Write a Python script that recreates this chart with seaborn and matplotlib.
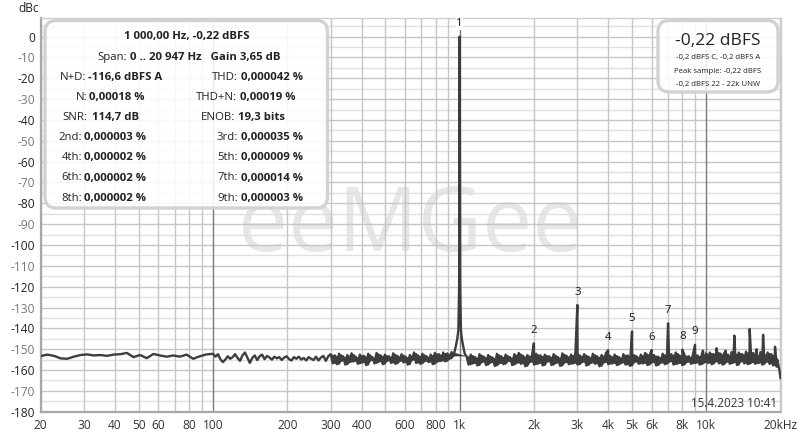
#!/usr/bin/env python3
"""FFT spectrum plot of a 1 kHz tone (dBc vs frequency), log frequency axis"""

import numpy as np
import pandas as pd
import matplotlib
matplotlib.use("Agg")
import matplotlib.pyplot as plt
import seaborn as sns
from matplotlib.patches import FancyBboxPatch
from matplotlib.transforms import IdentityTransform

W, H = 800, 436

# --- noise floor (dBc) ---
low_db = [-153.3, -152.6, -153.2, -154.4, -154.6, -153.6, -152.8, -152.5, -153.0, -152.8,
          -153.2, -152.6, -152.4, -151.8, -153.8, -152.8, -154.3, -152.3, -153.0, -153.6,
          -153.0, -153.6, -152.6, -154.6, -153.4, -152.5]

mid_db = [-152.2, -153.6, -152.4, -154.8, -156.2, -155.0, -153.4, -154.6, -153.8, -152.4,
          -154.2, -155.6, -153.0, -151.6, -154.0, -156.6, -154.2, -153.0, -155.2, -153.4,
          -152.6, -154.8, -153.2, -154.0, -155.0, -153.6, -154.4, -153.8, -155.2, -154.0,
          -153.4, -154.8, -155.4, -153.8, -154.6, -153.6, -155.0, -154.2, -155.4, -153.8,
          -154.6, -155.2, -153.6, -155.4, -154.0, -153.2, -155.6, -153.4]

c1_db = [-152.4, -156.8, -153.0, -157.2, -152.2, -155.6, -153.4, -157.4, -152.8, -156.2,
         -152.0, -155.8, -153.6, -157.0, -152.6, -156.4, -153.2, -157.6, -152.2, -155.4,
         -153.8, -156.8, -151.8, -156.0, -153.0, -157.2, -152.6, -155.6, -153.4, -156.6,
         -152.0, -157.0, -153.2, -155.8, -152.4, -156.4, -153.6, -157.4, -152.8, -155.2,
         -151.6, -156.6, -153.0, -157.0, -152.2, -155.8, -153.4, -156.2, -152.6, -157.2,
         -151.8, -156.0, -152.4, -155.6, -151.6, -155.8, -152.0, -154.6, -151.4, -153.2]

c2a_db = [-153.2, -157.4, -152.6, -156.8, -153.8, -157.8, -152.4, -156.2, -153.6, -157.6,
          -152.8, -156.4, -154.0, -158.0, -152.2, -156.8, -153.4, -157.2, -152.6, -155.8,
          -153.8, -157.6, -152.4, -156.6, -151.8, -157.0, -153.2, -158.2, -152.8, -156.2,
          -153.6, -157.4, -152.2, -156.8, -153.0, -157.8, -152.6, -156.0, -153.4, -157.6,
          -152.4, -156.6, -153.8, -158.0, -152.0, -156.4, -153.2, -157.2, -152.6, -156.8,
          -151.6, -157.4, -153.0, -156.2, -152.4, -157.8, -153.6, -156.6, -152.2, -157.0,
          -153.4, -158.2, -152.8, -156.4, -151.8, -157.2, -153.2, -156.8, -152.6, -157.6,
          -153.8, -156.6, -152.4, -157.4, -153.0, -158.0, -152.2, -156.2, -153.4, -157.0,
          -152.6, -156.8, -151.8, -157.6, -153.2, -156.4, -152.8, -157.8, -153.6, -156.6,
          -152.2, -157.2, -153.0, -156.0, -152.4, -157.4, -151.6, -156.8, -153.2, -157.6,
          -152.8, -156.2, -153.4, -157.0, -152.0, -156.6, -153.0, -157.4, -152.4, -156.4]

c2b_db = [-152.0, -156.6, -151.6, -157.2, -152.4, -156.0, -151.2, -156.8, -152.2, -157.4,
          -151.8, -156.2, -152.6, -157.0, -151.4, -156.4, -152.0, -157.6, -151.6, -156.0,
          -152.4, -156.8, -151.2, -157.2, -152.0, -156.4, -151.8, -157.0, -152.6, -156.6,
          -151.4, -157.4, -152.2, -156.2, -151.6, -157.0, -152.4, -157.8, -152.8, -158.4]

# fundamental with its skirt
fund_hz = [950, 965, 978, 988, 995, 1000, 1005, 1012, 1022, 1035, 1050]
fund_db = [-152.0, -148.5, -145.0, -141.0, -120.0, 0.0, -120.0, -141.0, -145.5, -149.0, -152.5]

# roll-off at the top of the band
tail_hz = [19400, 19600, 19800, 20000]
tail_db = [-155.0, -157.5, -160.0, -164.0]

# harmonics and other spurs
spur_hz = [2000, 3000, 4000, 5000, 6000, 7000, 8000, 9000, 9700,
           11000, 12000, 13000, 15000, 16000, 17000, 19000]
spur_db = [-147.2, -128.8, -150.5, -141.5, -150.4, -137.6, -150.2, -147.9, -150.7,
           -149.6, -150.7, -143.5, -140.3, -150.0, -143.1, -148.8]

harm_hz = [1000, 2000, 3000, 4000, 5000, 6000, 7000, 8000, 9000]
harm_db = [0.0, -147.2, -128.8, -150.5, -141.5, -150.4, -137.6, -150.2, -147.9]
harm_labels = ["1", "2", "3", "4", "5", "6", "7", "8", "9"]

# axis ticks
xgrid_hz = [20, 30, 40, 50, 60, 70, 80, 90, 200, 300, 400, 500, 600, 700, 800, 900,
            2000, 3000, 4000, 5000, 6000, 7000, 8000, 9000, 20000]
xtick_hz = [20, 30, 40, 50, 60, 80, 100, 200, 300, 400, 600, 800,
            1000, 2000, 3000, 4000, 5000, 6000, 8000, 10000, 20000]
xtick_labels = ["20", "30", "40", "50", "60", "80", "100", "200", "300", "400",
                "600", "800", "1k", "2k", "3k", "4k", "5k", "6k", "8k", "10k", "20kHz"]
decade_hz = [100, 1000, 10000]
ytick_db = list(range(-180, 1, 10))
yminor_db = list(range(-175, 9, 10))

# info box contents
info_title = "1 000,00 Hz, -0,22 dBFS"
info_rows = [
    ("N+D:", "-116,6 dBFS A", "THD:", "0,000042 %"),
    ("N:", "0,00018 %", "THD+N:", "0,00019 %"),
    ("SNR:", " 114,7 dB", "ENOB:", "19,3 bits"),
    ("2nd:", "0,000003 %", "3rd:", "0,000035 %"),
    ("4th:", "0,000002 %", "5th:", "0,000009 %"),
    ("6th:", "0,000002 %", "7th:", "0,000014 %"),
    ("8th:", "0,000002 %", "9th:", "0,000003 %"),
]
level_big = "-0,22 dBFS"
level_lines = ["-0,2 dBFS C, -0,2 dBFS A", "Peak sample: -0,22 dBFS", "-0,2 dBFS 22 - 22k UNW"]

# --- assemble trace ---
dense = pd.DataFrame({
    "freq": np.concatenate([np.geomspace(300, 945, len(c1_db)),
                            np.geomspace(1065, 10000, len(c2a_db), endpoint=False),
                            np.geomspace(10000, 19300, len(c2b_db))]),
    "db": np.concatenate([c1_db, c2a_db, c2b_db]),
})
# min/max of neighbouring bins -> the solid noise band the analyser draws
dense["hi"] = dense["db"].rolling(2, min_periods=1).max()
dense["lo"] = dense["db"].rolling(2, min_periods=1).min()

freq = np.concatenate([
    np.geomspace(20, 100, len(low_db), endpoint=False),
    np.geomspace(100, 300, len(mid_db), endpoint=False),
    dense["freq"].values,
    fund_hz,
    tail_hz,
    spur_hz,
])
level = np.concatenate([low_db, mid_db, dense["db"].values, fund_db, tail_db, spur_db])
df = pd.DataFrame({"freq": freq, "db": level}).sort_values("freq")

sns.set_theme(style="white")
plt.rcParams["font.family"] = ["Open Sans", "DejaVu Sans"]
plt.rcParams["axes.unicode_minus"] = False
TXT = "#222222"
LINE = "#3d3d3d"

fig = plt.figure(figsize=(W / 100, H / 100), dpi=100)
ax = fig.add_axes([40.7 / W, 1 - 411.7 / H, 739.8 / W, 393.4 / H])
ax.set_facecolor((1, 1, 1, 0))
fig.patch.set_facecolor("white")

ax.fill_between(dense["freq"], dense["lo"], dense["hi"], color=LINE, linewidth=0, zorder=2.9)
sns.lineplot(data=df, x="freq", y="db", estimator=None, sort=True,
             color=LINE, linewidth=1.7, ax=ax, zorder=3)

ax.set_xscale("log")
ax.set_xlim(20, 20000)
ax.set_ylim(-180, 8.8)
ax.set_xlabel("")
ax.set_ylabel("")

ax.xaxis.set_minor_locator(matplotlib.ticker.NullLocator())
ax.set_xticks(xtick_hz)
ax.set_xticklabels(xtick_labels)
ax.set_yticks(ytick_db)
ax.set_yticklabels([str(v) for v in ytick_db])
ax.set_yticks(yminor_db, minor=True)
ax.grid(False)

# grid drawn by hand: light minor rows, grey rows/columns, dark decade lines
for v in yminor_db:
    ax.axhline(v, color="#e0e0e0", linewidth=1.0, zorder=1)
for v in ytick_db:
    ax.axhline(v, color="#c6c6c6", linewidth=1.0, zorder=1.1)
for f in xgrid_hz:
    ax.axvline(f, color="#c6c6c6", linewidth=1.0, zorder=1.1)
for d in decade_hz:
    ax.axvline(d, color="#7a7a7a", linewidth=1.0, zorder=1.5)

ax.tick_params(axis="x", length=0, pad=5, labelsize=8.6, colors="#333333")
ax.tick_params(axis="y", which="major", length=3, width=1, color="#999999", pad=1,
               labelsize=8.6)
ax.tick_params(axis="y", which="minor", length=0)
for v, lbl in zip(ytick_db, ax.get_yticklabels()):
    lbl.set_color(TXT if v % 20 == 0 else "#777777")

for side in ["top", "right"]:
    ax.spines[side].set_color("#cfcfcf")
    ax.spines[side].set_linewidth(1.0)
for side in ["left", "bottom"]:
    ax.spines[side].set_color("#a8a8a8")
    ax.spines[side].set_linewidth(1.6)

# watermark
fig.text(410 / W, 1 - 251 / H, "eeMGee", ha="center", va="baseline", fontsize=64,
         color="#e6e6e6", zorder=-1)

# harmonic numbers
for f, v, t in zip(harm_hz, harm_db, harm_labels):
    ax.text(f, v + 6.2, t, ha="center", va="center", fontsize=8.2, color="#111111",
            zorder=4, bbox=dict(facecolor="white", edgecolor="none", pad=0.3) if t == "1" else None)


def px(x, y):
    return x / W, 1 - y / H


def rbox(x0, y0, x1, y1):
    patch = FancyBboxPatch((x0, H - y1), x1 - x0, y1 - y0,
                           boxstyle="round,pad=0,rounding_size=11",
                           transform=IdentityTransform(), facecolor=(1, 1, 1, 0.88),
                           edgecolor="#d2d2d2", linewidth=2.4, zorder=2)
    fig.add_artist(patch)


rbox(45, 20.5, 327.5, 208)
rbox(658, 20.5, 778, 92)

fs = 8.2
fig.text(*px(187, 37), info_title, ha="center", va="center", fontsize=fs,
         fontweight="bold", color=TXT, zorder=5)
fig.text(*px(127, 57), "Span:", ha="right", va="center", fontsize=fs, color=TXT, zorder=5)
fig.text(*px(130, 57), "0 .. 20 947 Hz   Gain 3,65 dB", ha="left", va="center", fontsize=fs,
         fontweight="bold", color=TXT, zorder=5)

left_colon = [86, 88, 87, 82, 82, 82, 82]
left_val = [88, 89, 89, 84, 84, 84, 84]
right_colon = [238, 237, 235, 238, 238, 238, 238]
right_val = [241, 240, 238, 241, 241, 241, 241]
for i, (l1, v1, l2, v2) in enumerate(info_rows):
    y = 77.5 + i * 20.1
    fig.text(*px(left_colon[i], y), l1, ha="right", va="center", fontsize=fs,
             color=TXT, zorder=5)
    fig.text(*px(left_val[i], y), v1, ha="left", va="center", fontsize=fs,
             fontweight="bold", color=TXT, zorder=5)
    fig.text(*px(right_colon[i], y), l2, ha="right", va="center", fontsize=fs,
             color=TXT, zorder=5)
    fig.text(*px(right_val[i], y), v2, ha="left", va="center", fontsize=fs,
             fontweight="bold", color=TXT, zorder=5)

fig.text(*px(718, 41), level_big, ha="center", va="center", fontsize=12.5,
         color=TXT, zorder=5)
for i, line in enumerate(level_lines):
    fig.text(*px(718, 58 + i * 13.3), line, ha="center", va="center", fontsize=5.6,
             color=TXT, zorder=5)

fig.text(*px(18, 9), "dBc", ha="left", va="center", fontsize=8.6, color=TXT)
fig.text(*px(777, 403), "15.4.2023 10:41", ha="right", va="center", fontsize=8.4,
         color="#333333", zorder=5)

fig.savefig("out.png", dpi=100)
plt.close(fig)
